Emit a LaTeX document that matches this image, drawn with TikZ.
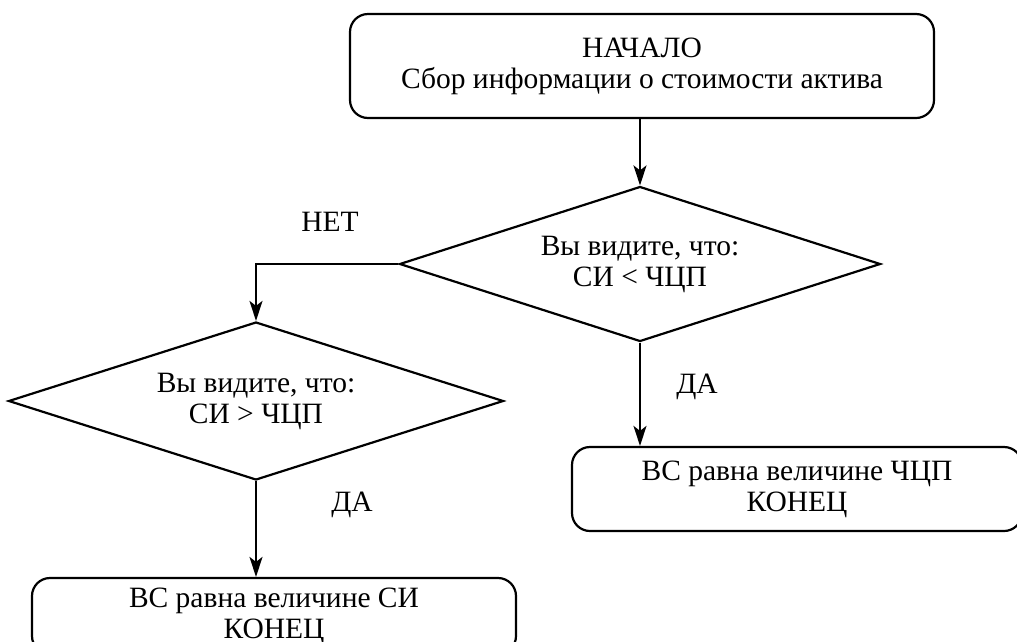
\documentclass[tikz,border=0pt]{standalone}
\usepackage{fontspec}
\setmainfont{Liberation Serif}
\usetikzlibrary{shapes.geometric,arrows.meta}
\tikzset{
  box/.style={draw, line width=2.2pt, rounded corners=18pt, align=center, inner sep=0pt},
  dec/.style={draw, diamond, line width=2.2pt, align=center, inner sep=0pt},
  arr/.style={line width=2.2pt, -{Stealth[length=20pt,width=13pt,inset=5pt]}},
  lbl/.style={inner sep=0pt},
}
\begin{document}
\begin{tikzpicture}[x=1pt,y=-1pt,font=\fontsize{29.5}{31}\selectfont]
\useasboundingbox (0,0) rectangle (1017,641);
\clip (0,0) rectangle (1017,641);
\node[box, minimum width=584pt, minimum height=104pt] (start) at (642,66) {НАЧАЛО\\Сбор информации о стоимости актива};
\node[dec, minimum width=481pt, minimum height=155pt, shape aspect=3.1] (d1) at (640,264) {Вы видите, что:\\СИ < ЧЦП};
\node[dec, minimum width=495pt, minimum height=158pt, shape aspect=3.1] (d2) at (256,401) {Вы видите, что:\\СИ > ЧЦП};
\node[box, minimum width=450pt, minimum height=84pt] (endR) at (797,489) {ВС равна величине ЧЦП\\КОНЕЦ};
\node[box, minimum width=484pt, minimum height=76pt] (endL) at (274,616) {ВС равна величине СИ\\КОНЕЦ};
\draw[arr] (start.south -| d1.north) -- (d1.north);
\draw[arr] (d1.west) -| (d2.north);
\draw[arr] (d1.south) -- (d1.south |- endR.north);
\draw[arr] (d2.south) -- (endL.north -| d2.south);
\node[lbl] (net) at (330,222) {НЕТ};
\node[lbl] (da1) at (697,387) {ДА};
\node[lbl] (da2) at (352,505) {ДА};
\end{tikzpicture}
\end{document}
